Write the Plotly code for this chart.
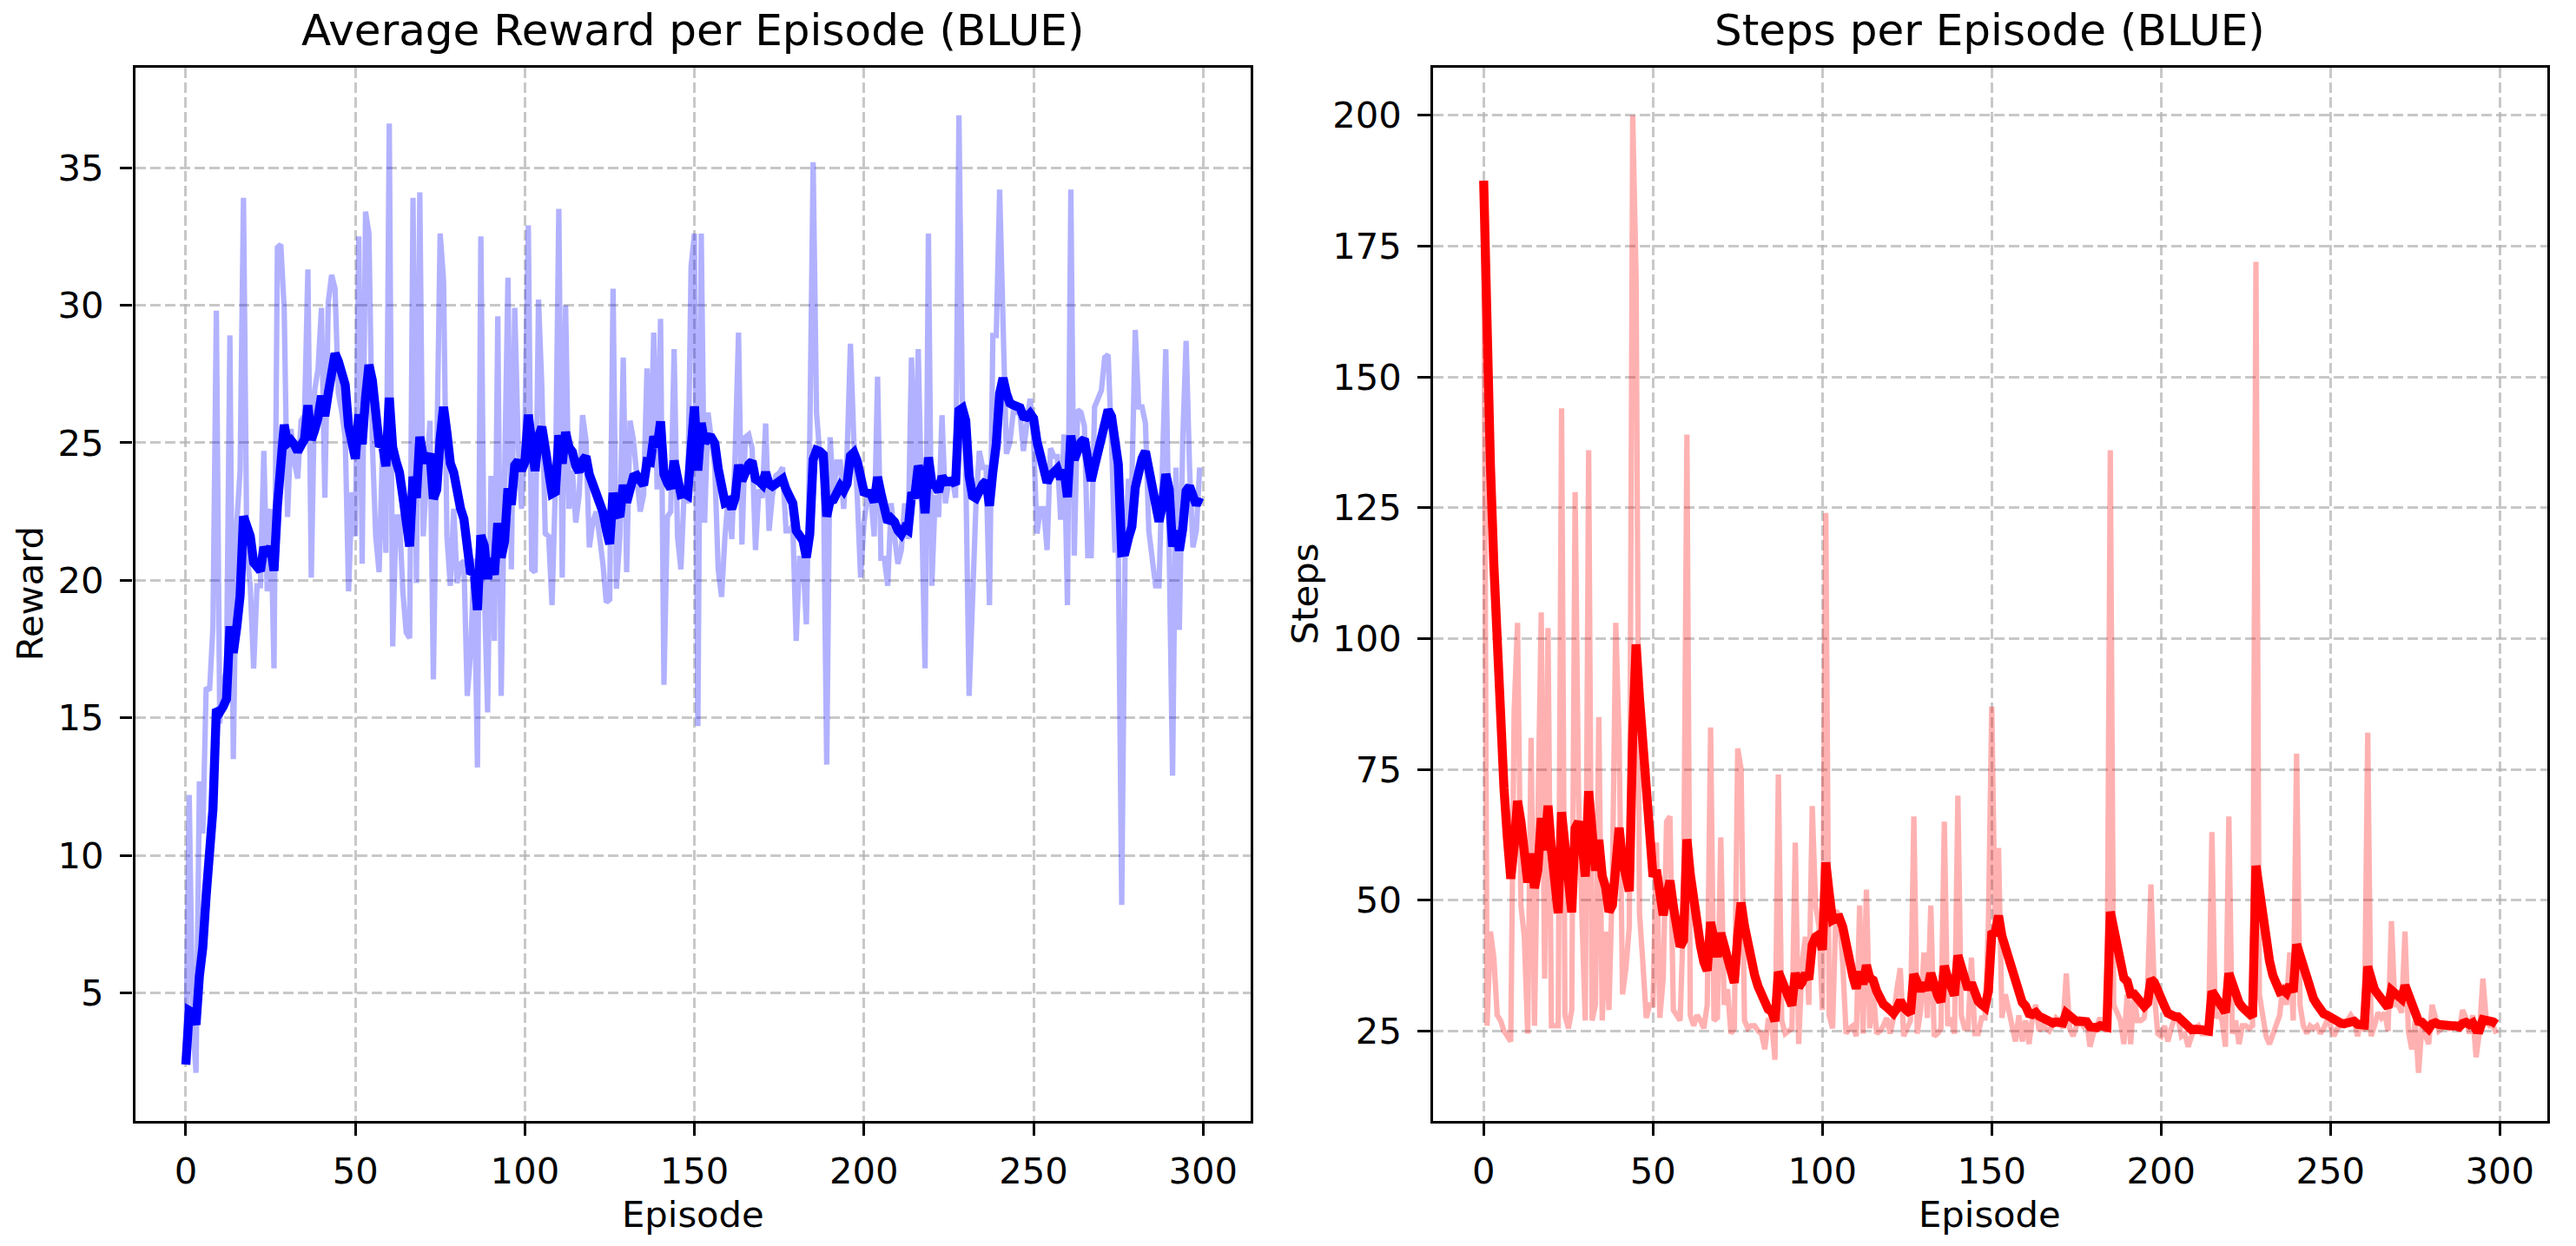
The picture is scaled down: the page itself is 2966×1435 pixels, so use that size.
import pandas as pd
import plotly.graph_objects as go
from plotly.subplots import make_subplots


# values, one per episode (0..299)
EPISODE_REWARD = [
    2.4, 12.2, 4.0, 2.1, 12.7, 10.8, 16.1, 16.0, 18.3, 29.8,
    14.8, 16.2, 16.8, 28.9, 13.5, 22.0, 24.0, 33.9, 21.0, 19.8,
    16.8, 19.8, 19.8, 24.7, 19.6, 22.6, 16.8, 32.1, 32.2, 29.9,
    22.3, 25.5, 24.3, 23.7, 25.8, 26.0, 31.3, 20.1, 26.9, 27.7,
    29.9, 23.0, 30.1, 31.1, 30.6, 26.8, 26.1, 25.2, 19.6, 23.2,
    21.6, 32.5, 20.6, 33.4, 32.6, 25.0, 21.6, 20.3, 24.8, 21.0,
    36.6, 17.6, 22.3, 22.3, 19.6, 18.1, 17.9, 33.9, 19.9, 34.1,
    21.6, 23.6, 25.8, 16.4, 24.6, 32.6, 30.9, 21.6, 19.8, 22.6,
    19.9, 20.6, 20.7, 15.8, 17.4, 20.8, 13.2, 32.5, 19.8, 15.2,
    23.8, 17.8, 29.6, 15.8, 23.8, 31.0, 20.4, 29.9, 25.0, 22.6,
    25.5, 32.9, 20.4, 20.3, 30.2, 27.0, 21.7, 21.6, 19.1, 23.5,
    33.5, 20.1, 30.0, 22.6, 24.0, 22.1, 23.1, 26.0, 25.1, 21.2,
    22.1, 22.5, 21.6, 20.6, 19.2, 19.3, 30.6, 19.7, 21.6, 28.1,
    20.3, 25.8, 25.1, 24.0, 22.5, 23.1, 27.7, 24.2, 29.0, 23.3,
    29.5, 16.2, 22.3, 22.5, 28.4, 21.6, 20.4, 23.3, 22.8, 31.4,
    32.6, 14.7, 32.6, 22.1, 26.1, 25.1, 24.1, 20.4, 19.4, 21.6,
    23.1, 21.5, 24.6, 29.0, 21.3, 25.2, 25.3, 24.8, 21.1, 23.3,
    23.0, 25.7, 21.8, 23.1, 23.8, 23.9, 24.1, 21.8, 21.8, 22.0,
    17.8, 20.8, 20.8, 18.4, 25.1, 35.2, 26.1, 24.5, 24.1, 13.3,
    25.2, 23.1, 24.3, 24.3, 22.6, 24.5, 28.6, 25.1, 23.1, 20.1,
    22.1, 23.0, 23.1, 21.6, 27.4, 20.8, 20.8, 19.8, 22.8, 21.6,
    20.6, 21.1, 22.8, 21.5, 28.1, 23.2, 28.4, 22.6, 16.8, 32.6,
    19.8, 23.1, 22.3, 26.0, 22.8, 23.6, 23.7, 23.0, 36.9, 26.6,
    24.0, 15.8, 20.1, 22.7, 24.7, 24.1, 24.1, 19.1, 28.9, 28.9,
    34.2, 29.6, 24.6, 25.0, 26.1, 26.1, 26.1, 24.7, 25.8, 26.6,
    25.2, 21.7, 22.6, 22.6, 21.1, 24.8, 24.5, 24.5, 22.2, 25.3,
    19.1, 34.2, 20.9, 26.2, 26.1, 25.6, 20.9, 20.9, 26.3, 26.6,
    26.9, 28.1, 28.2, 25.0, 21.1, 21.1, 8.2, 21.1, 23.6, 23.6,
    29.1, 26.3, 26.3, 25.7, 21.8, 20.8, 19.8, 19.8, 25.1, 28.4,
    21.1, 12.9, 24.1, 18.2, 25.1, 28.7, 24.1, 21.2, 21.8, 24.1,
]

EPISODE_STEPS = [
    187.5, 26, 44, 39, 28, 27, 25, 24, 23, 86,
    103, 49, 43, 24.5, 81, 26, 70, 105, 35, 102,
    26, 26, 26, 144, 28, 25.5, 29, 128, 70, 47,
    27, 136, 27, 30, 85, 27, 44, 29, 54, 103,
    80, 32, 37, 45, 200, 169, 47.5, 38, 27.5, 30,
    30, 61, 27.5, 35, 65, 66, 29, 28, 27, 47,
    139, 28, 26, 28, 27, 25.5, 30, 83, 27, 27.5,
    62, 30, 33, 24.5, 25.5, 79, 75, 27, 25.5, 26,
    26, 25, 24.5, 21.5, 27, 27, 19.5, 74, 27, 24.5,
    25, 25.5, 61, 22.5, 38, 43, 30, 68, 49, 45,
    29, 124, 28, 25.5, 48, 47, 38, 24.5, 25.5, 26,
    24, 49, 24.5, 52, 25.5, 33, 24.5, 25, 26, 27.5,
    24.5, 27.5, 33, 37, 24, 25.5, 27, 66, 24.5, 29,
    40, 27.5, 49, 24, 24.5, 25.5, 65, 26, 27.5, 24.5,
    70, 28, 25.5, 25.5, 39, 24.5, 24.5, 27.5, 27.5, 45,
    87, 45, 60, 27.5, 32, 29, 26, 23, 28, 23,
    27, 22.5, 27.5, 30, 25, 26, 25.5, 25, 26, 27.5,
    27, 25.5, 36, 25.5, 24, 26, 27, 26, 27, 22,
    24.5, 26, 27.5, 25.5, 25, 136, 30, 28.5, 27, 22.5,
    32, 22.5, 32, 27, 27, 27.5, 33, 53, 32, 24.5,
    24, 26, 23, 25.5, 27.5, 27.5, 24, 24.5, 22, 24,
    25.5, 26, 24.5, 24.5, 24.5, 63, 27.5, 28.5, 27, 22,
    66, 24.5, 27, 22.5, 26, 26, 25.5, 26, 172, 32,
    28, 24, 22.5, 24.5, 26, 28, 34, 30, 40, 27,
    78, 30, 26, 24.5, 26, 25.5, 26, 24.5, 25.5, 27,
    26, 24, 25.5, 26, 26, 27, 28, 27, 24, 27,
    25, 82, 24, 26, 28.5, 27.5, 28.5, 25, 46, 30,
    30, 28.5, 44, 25, 21.5, 27, 17, 26, 24, 22.5,
    30, 27.5, 25, 25.5, 26, 25.5, 26, 26, 25, 29,
    27.5, 24.5, 28, 20, 25, 35, 27, 26, 26, 24.5,
]

X_TICKS = [0, 50, 100, 150, 200, 250, 300]
REWARD_TICKS = [5, 10, 15, 20, 25, 30, 35]
STEPS_TICKS = [25, 50, 75, 100, 125, 150, 175, 200]

SMOOTH_ALPHA = 0.2

WIDTH, HEIGHT = 2966, 1435
FONT = "DejaVu Sans"
TICK_SIZE = 41.7
TITLE_SIZE = 50
GRID_COLOR = "rgba(176,176,176,0.7)"

# axes boxes in pixels (left, right, top, bottom)
LEFT_BOX = (155.6, 1439.7, 77.7, 1290.7)
RIGHT_BOX = (1650.0, 2932.7, 77.7, 1290.7)


def px_x(x: float) -> float:
    return x / WIDTH


def px_y(y: float) -> float:
    return 1 - y / HEIGHT


def auto_range(values, margin=0.05):
    lo, hi = min(values), max(values)
    pad = (hi - lo) * margin
    return [lo - pad, hi + pad]


def smooth(values):
    return pd.Series(values).ewm(alpha=SMOOTH_ALPHA, adjust=False).mean().tolist()


def style_axes(fig, col, y_ticks, y_range, x_range):
    common = dict(
        showline=True,
        linecolor="black",
        linewidth=3.3,
        mirror=True,
        ticks="outside",
        ticklen=14.6,
        tickwidth=3.3,
        tickcolor="black",
        tickfont=dict(family=FONT, size=TICK_SIZE, color="black"),
        showgrid=True,
        gridcolor=GRID_COLOR,
        gridwidth=3.3,
        griddash="12px,5px",
        zeroline=False,
    )
    fig.update_xaxes(tickvals=X_TICKS, range=x_range, ticklabelstandoff=5,
                     row=1, col=col, **common)
    fig.update_yaxes(tickvals=y_ticks, range=y_range, ticklabelstandoff=10,
                     row=1, col=col, **common)


def main() -> None:
    episodes = list(range(len(EPISODE_REWARD)))
    steps_x = list(range(len(EPISODE_STEPS)))

    fig = make_subplots(rows=1, cols=2)

    fig.add_trace(go.Scatter(x=episodes, y=EPISODE_REWARD, mode="lines",
                             line=dict(color="blue", width=6.2), opacity=0.3,
                             showlegend=False), row=1, col=1)
    fig.add_trace(go.Scatter(x=episodes, y=smooth(EPISODE_REWARD), mode="lines",
                             line=dict(color="blue", width=10.4),
                             showlegend=False), row=1, col=1)
    fig.add_trace(go.Scatter(x=steps_x, y=EPISODE_STEPS, mode="lines",
                             line=dict(color="red", width=6.2), opacity=0.3,
                             showlegend=False), row=1, col=2)
    fig.add_trace(go.Scatter(x=steps_x, y=smooth(EPISODE_STEPS), mode="lines",
                             line=dict(color="red", width=10.4),
                             showlegend=False), row=1, col=2)

    x_range = auto_range(episodes)
    style_axes(fig, 1, REWARD_TICKS, auto_range(EPISODE_REWARD), x_range)
    style_axes(fig, 2, STEPS_TICKS, auto_range(EPISODE_STEPS), x_range)

    fig.update_layout(
        xaxis=dict(domain=[px_x(LEFT_BOX[0]), px_x(LEFT_BOX[1])]),
        xaxis2=dict(domain=[px_x(RIGHT_BOX[0]), px_x(RIGHT_BOX[1])]),
        yaxis=dict(domain=[px_y(LEFT_BOX[3]), px_y(LEFT_BOX[2])]),
        yaxis2=dict(domain=[px_y(RIGHT_BOX[3]), px_y(RIGHT_BOX[2])]),
    )

    texts = [
        ("Average Reward per Episode (BLUE)", (LEFT_BOX[0] + LEFT_BOX[1]) / 2, 35, TITLE_SIZE, 0),
        ("Steps per Episode (BLUE)", (RIGHT_BOX[0] + RIGHT_BOX[1]) / 2, 35, TITLE_SIZE, 0),
        ("Episode", (LEFT_BOX[0] + LEFT_BOX[1]) / 2, 1398, TICK_SIZE, 0),
        ("Episode", (RIGHT_BOX[0] + RIGHT_BOX[1]) / 2, 1398, TICK_SIZE, 0),
        ("Reward", 34, (LEFT_BOX[2] + LEFT_BOX[3]) / 2, TICK_SIZE, -90),
        ("Steps", 1502, (RIGHT_BOX[2] + RIGHT_BOX[3]) / 2, TICK_SIZE, -90),
    ]
    for text, x, y, size, angle in texts:
        fig.add_annotation(
            text=text, x=px_x(x), y=px_y(y), xref="paper", yref="paper",
            xanchor="center", yanchor="middle", showarrow=False, textangle=angle,
            font=dict(family=FONT, size=size, color="black"),
        )

    fig.update_layout(
        width=WIDTH,
        height=HEIGHT,
        margin=dict(l=0, r=0, t=0, b=0),
        paper_bgcolor="white",
        plot_bgcolor="white",
        font=dict(family=FONT, color="black"),
    )
    fig.write_html("out.html", config={"displayModeBar": False},
                   post_script="document.body.style.margin='0';")


if __name__ == "__main__":
    main()
